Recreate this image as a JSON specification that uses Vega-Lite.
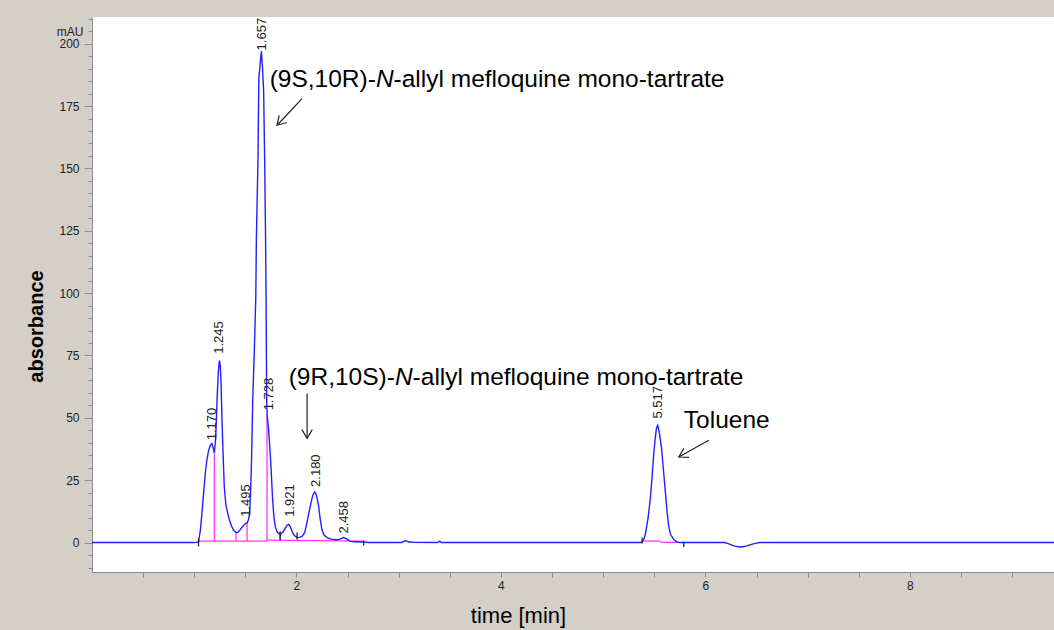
{
  "$schema": "https://vega.github.io/schema/vega-lite/v6.json",
  "width": 962,
  "height": 555,
  "autosize": {"type": "none"},
  "padding": {"left": 92, "top": 17, "right": 0, "bottom": 58},
  "background": "#d4d0c8",
  "config": {
    "view": {"fill": "white", "stroke": null},
    "font": "Liberation Sans"
  },
  "datasets": {
    "curve": [
      {"t":0,"a":0},{"t":1.0,"a":0},{"t":1.042,"a":0.3},{"t":1.06,"a":5},{"t":1.075,"a":11.6},{"t":1.09,"a":19},{"t":1.108,"a":27.7},{"t":1.125,"a":33.5},{"t":1.14,"a":36.8},{"t":1.155,"a":38.8},{"t":1.172,"a":39.7},{"t":1.185,"a":38},{"t":1.197,"a":35.8},{"t":1.21,"a":42},{"t":1.223,"a":57},{"t":1.235,"a":68},{"t":1.246,"a":73},{"t":1.255,"a":71},{"t":1.263,"a":63},{"t":1.271,"a":50},{"t":1.28,"a":38},{"t":1.294,"a":22.3},{"t":1.31,"a":15},{"t":1.336,"a":10.3},{"t":1.36,"a":7},{"t":1.385,"a":4.9},{"t":1.41,"a":4.0},{"t":1.43,"a":4.2},{"t":1.45,"a":5.2},{"t":1.476,"a":6.6},{"t":1.5,"a":7.6},{"t":1.517,"a":7.9},{"t":1.53,"a":9},{"t":1.542,"a":11.7},{"t":1.55,"a":19},{"t":1.559,"a":30.3},{"t":1.566,"a":44},{"t":1.572,"a":57},{"t":1.58,"a":67},{"t":1.588,"a":77},{"t":1.595,"a":88},{"t":1.602,"a":98},{"t":1.608,"a":122},{"t":1.616,"a":138},{"t":1.624,"a":154},{"t":1.628,"a":172},{"t":1.632,"a":186},{"t":1.645,"a":192},{"t":1.657,"a":197},{"t":1.668,"a":190},{"t":1.679,"a":181},{"t":1.689,"a":153},{"t":1.697,"a":125},{"t":1.703,"a":97},{"t":1.706,"a":75},{"t":1.709,"a":56},{"t":1.714,"a":50.5},{"t":1.725,"a":46.5},{"t":1.738,"a":39},{"t":1.751,"a":30.3},{"t":1.767,"a":17},{"t":1.78,"a":10},{"t":1.794,"a":6.3},{"t":1.81,"a":4.3},{"t":1.826,"a":3.6},{"t":1.849,"a":3.5},{"t":1.87,"a":4.3},{"t":1.89,"a":5.8},{"t":1.91,"a":7},{"t":1.924,"a":7.3},{"t":1.94,"a":6.3},{"t":1.96,"a":4.2},{"t":1.98,"a":2.8},{"t":2.006,"a":2.0},{"t":2.03,"a":2.1},{"t":2.055,"a":2.5},{"t":2.08,"a":4},{"t":2.1,"a":7.5},{"t":2.12,"a":11.6},{"t":2.14,"a":15.5},{"t":2.16,"a":19},{"t":2.178,"a":20.3},{"t":2.195,"a":19},{"t":2.208,"a":16.5},{"t":2.218,"a":14.3},{"t":2.232,"a":9.5},{"t":2.25,"a":5},{"t":2.27,"a":3},{"t":2.299,"a":2},{"t":2.33,"a":1.5},{"t":2.364,"a":1.2},{"t":2.4,"a":1.1},{"t":2.43,"a":1.5},{"t":2.462,"a":2.0},{"t":2.49,"a":1.5},{"t":2.527,"a":0.5},{"t":2.56,"a":0.3},{"t":2.66,"a":0.2},{"t":2.7,"a":0},{"t":3.03,"a":0},{"t":3.066,"a":0.8},{"t":3.1,"a":0.2},{"t":3.14,"a":0.1},{"t":3.38,"a":0},{"t":3.4,"a":0.6},{"t":3.42,"a":0},{"t":5.37,"a":0},{"t":5.381,"a":0.3},{"t":5.4,"a":1.5},{"t":5.414,"a":3.6},{"t":5.44,"a":10},{"t":5.463,"a":18.3},{"t":5.48,"a":27},{"t":5.495,"a":35.7},{"t":5.51,"a":42},{"t":5.522,"a":46},{"t":5.534,"a":47},{"t":5.55,"a":44},{"t":5.57,"a":38.3},{"t":5.59,"a":29},{"t":5.61,"a":19.6},{"t":5.626,"a":12},{"t":5.642,"a":6.3},{"t":5.66,"a":3.2},{"t":5.691,"a":1.2},{"t":5.72,"a":0.3},{"t":5.75,"a":0},{"t":6.19,"a":0},{"t":6.23,"a":-0.5},{"t":6.27,"a":-1.2},{"t":6.31,"a":-1.6},{"t":6.343,"a":-1.8},{"t":6.38,"a":-1.6},{"t":6.42,"a":-1.1},{"t":6.46,"a":-0.6},{"t":6.5,"a":-0.2},{"t":6.53,"a":0},{"t":9.41,"a":0}
    ],
    "baseline": [
      {"t":1.042,"a":0.6,"t2":1.712,"a2":0.6},
      {"t":1.712,"a":1.0,"t2":2.658,"a2":0.6},
      {"t":1.197,"a":0.6,"t2":1.197,"a2":35.5},
      {"t":1.409,"a":0.6,"t2":1.409,"a2":4.2},
      {"t":1.517,"a":0.6,"t2":1.517,"a2":7.9},
      {"t":1.712,"a":0.6,"t2":1.712,"a2":50.3},
      {"t":1.84,"a":1.0,"t2":1.84,"a2":3.5},
      {"t":2.006,"a":1.0,"t2":2.006,"a2":2.0},
      {"t":5.381,"a":0.6,"t2":5.56,"a2":0.6},
      {"t":5.56,"a":0.1,"t2":5.75,"a2":0.1}
    ],
    "marks": [
      {"t":1.042,"a":-1.5,"a2":1.5},
      {"t":2.658,"a":-1.2,"a2":0.8},
      {"t":5.381,"a":-0.4,"a2":2.0},
      {"t":5.789,"a":-1.8,"a2":0.2},
      {"t":1.84,"a":1.0,"a2":4.5},
      {"t":2.006,"a":1.5,"a2":4.0}
    ],
    "peaks": [
      {"rt":"1.170","t":1.174,"a":39.4},
      {"rt":"1.245","t":1.239,"a":74.1},
      {"rt":"1.495","t":1.508,"a":8.7},
      {"rt":"1.657","t":1.663,"a":195.7},
      {"rt":"1.728","t":1.735,"a":51.4},
      {"rt":"1.921","t":1.934,"a":8.7},
      {"rt":"2.180","t":2.19,"a":20.7},
      {"rt":"2.458","t":2.462,"a":2.0},
      {"rt":"5.517","t":5.534,"a":48.1}
    ],
    "ann_regular": [
      {"t":1.738,"a":182.6,"s":"(9S,10R)-"},
      {"t":2.95,"a":182.6,"s":"-allyl mefloquine mono-tartrate"},
      {"t":1.924,"a":63.0,"s":"(9R,10S)-"},
      {"t":3.136,"a":63.0,"s":"-allyl mefloquine mono-tartrate"},
      {"t":5.789,"a":45.8,"s":"Toluene"}
    ],
    "ann_italic": [
      {"t":2.777,"a":182.6,"s":"N"},
      {"t":2.963,"a":63.0,"s":"N"}
    ],
    "arrows": [
      {"id":1,"t":1.81,"a":167.3,"t2":2.055,"a2":178.0},
      {"id":2,"t":2.104,"a":41.8,"t2":2.104,"a2":59.8},
      {"id":3,"t":5.74,"a":34.3,"t2":6.033,"a2":41.0}
    ]
  },
  "encoding": {
    "x": {
      "field": "t", "type": "quantitative",
      "scale": {"domain": [0, 9.41], "nice": false, "zero": false},
      "axis": {
        "title": "time [min]",
        "values": [0.5,1,1.5,2,2.5,3,3.5,4,4.5,5,5.5,6,6.5,7,7.5,8,8.5,9],
        "format": "~g",
        "labelExpr": "datum.value % 2 === 0 ? datum.label : ''",
        "grid": false,
        "domainColor": "#8c8c8c",
        "tickColor": "#8c8c8c",
        "tickSize": 5,
        "labelFontSize": 12,
        "labelColor": "#222222",
        "labelPadding": 3,
        "labelOverlap": false,
        "labelFlush": false,
        "titleFontSize": 22,
        "titleFontWeight": "normal",
        "titleColor": "#000000",
        "titleX": 426,
        "titleY": 50,
        "titleAlign": "center",
        "titleBaseline": "alphabetic"
      }
    },
    "y": {
      "field": "a", "type": "quantitative",
      "scale": {"domain": [-11.8, 210.7], "nice": false, "zero": false},
      "axis": {
        "title": "absorbance",
        "values": [-10,-5,0,5,10,15,20,25,30,35,40,45,50,55,60,65,70,75,80,85,90,95,100,105,110,115,120,125,130,135,140,145,150,155,160,165,170,175,180,185,190,195,200,205,210],
        "labelExpr": "datum.value % 25 === 0 ? datum.label : (datum.value === 205 ? 'mAU' : '')",
        "tickSize": {"condition": {"test": "datum.value % 25 === 0", "value": 8}, "value": 4},
        "grid": false,
        "domainColor": "#8c8c8c",
        "tickColor": "#8c8c8c",
        "labelFontSize": 12,
        "labelColor": "#222222",
        "labelPadding": 5,
        "labelOverlap": false,
        "labelFlush": false,
        "titleFontSize": 20,
        "titleFontWeight": "bold",
        "titleColor": "#000000",
        "titleX": -56,
        "titleY": 309,
        "titleAlign": "center",
        "titleBaseline": "middle",
        "titleAngle": 270
      }
    }
  },
  "layer": [
    {
      "data": {"name": "baseline"},
      "mark": {"type": "rule", "color": "#ff33ff", "strokeWidth": 1.3},
      "encoding": {
        "x2": {"field": "t2"},
        "y2": {"field": "a2"}
      }
    },
    {
      "data": {"name": "curve"},
      "mark": {"type": "line", "color": "#2020ff", "strokeWidth": 1.4}
    },
    {
      "data": {"name": "marks"},
      "mark": {"type": "rule", "color": "#111111", "strokeWidth": 1.2},
      "encoding": {
        "y2": {"field": "a2"}
      }
    },
    {
      "data": {"name": "peaks"},
      "mark": {"type": "text", "angle": 270, "align": "left", "baseline": "middle", "dx": 4, "fontSize": 13, "color": "#222222"},
      "encoding": {
        "text": {"field": "rt", "type": "nominal"}
      }
    },
    {
      "data": {"name": "ann_regular"},
      "mark": {"type": "text", "align": "left", "baseline": "alphabetic", "fontSize": 24.5, "color": "#000000"},
      "encoding": {
        "text": {"field": "s", "type": "nominal"}
      }
    },
    {
      "data": {"name": "ann_italic"},
      "mark": {"type": "text", "align": "left", "baseline": "alphabetic", "fontSize": 24.5, "fontStyle": "italic", "color": "#000000"},
      "encoding": {
        "text": {"field": "s", "type": "nominal"}
      }
    },
    {
      "data": {"name": "arrows"},
      "mark": {"type": "rule", "color": "#222222", "strokeWidth": 1.2},
      "encoding": {
        "x2": {"field": "t2"},
        "y2": {"field": "a2"}
      }
    },
    {
      "data": {"name": "arrows"},
      "transform": [{"filter": "datum.id === 1"}],
      "mark": {"type": "point", "shape": "M -1 -0.6 L 0 0 L -1 0.6", "filled": false, "size": 300, "angle": 133, "stroke": "#222222", "strokeWidth": 1.2, "opacity": 1}
    },
    {
      "data": {"name": "arrows"},
      "transform": [{"filter": "datum.id === 2"}],
      "mark": {"type": "point", "shape": "M -1 -0.6 L 0 0 L -1 0.6", "filled": false, "size": 300, "angle": 90, "stroke": "#222222", "strokeWidth": 1.2, "opacity": 1}
    },
    {
      "data": {"name": "arrows"},
      "transform": [{"filter": "datum.id === 3"}],
      "mark": {"type": "point", "shape": "M -1 -0.6 L 0 0 L -1 0.6", "filled": false, "size": 300, "angle": 151, "stroke": "#222222", "strokeWidth": 1.2, "opacity": 1}
    }
  ]
}
